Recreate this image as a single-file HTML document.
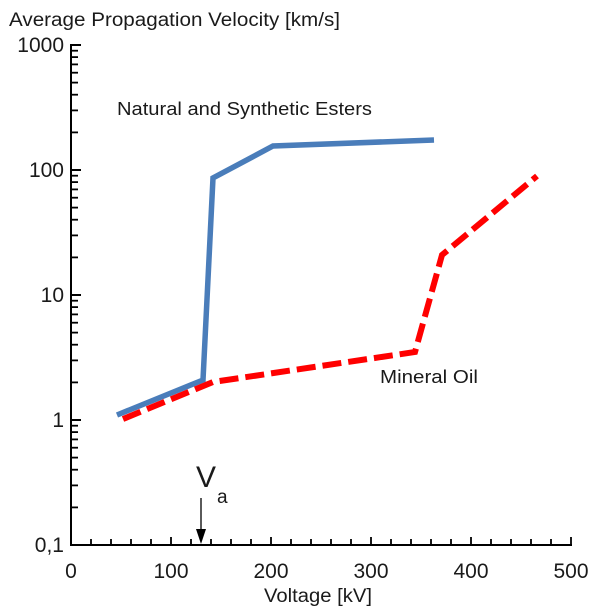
<!DOCTYPE html>
<html>
<head>
<meta charset="utf-8">
<style>
html,body{margin:0;padding:0;background:#fff;}
svg{display:block;}
text{font-family:"Liberation Sans",Arial,sans-serif;}
</style>
</head>
<body>
<svg width="602" height="616" viewBox="0 0 602 616" xmlns="http://www.w3.org/2000/svg">
<rect width="602" height="616" fill="#fff"/>
<!-- title -->
<text x="9" y="26" font-size="19" fill="#1a1a1a" textLength="331" lengthAdjust="spacingAndGlyphs">Average Propagation Velocity [km/s]</text>

<!-- axes -->
<g stroke="#000" stroke-width="2" fill="none">
<line x1="71" y1="44" x2="71" y2="546"/>
<line x1="70" y1="545" x2="572" y2="545"/>
</g>

<!-- y ticks -->
<g stroke="#000" stroke-width="2">
<line x1="71" y1="45" x2="81" y2="45"/>
<line x1="71" y1="170" x2="81" y2="170"/>
<line x1="71" y1="295" x2="81" y2="295"/>
<line x1="71" y1="420" x2="81" y2="420"/>
</g>
<g stroke="#000" stroke-width="1.8" id="minor">
<!-- decade 100-1000 base 170 -->
<line x1="71" y1="132.4" x2="78" y2="132.4"/>
<line x1="71" y1="110.4" x2="78" y2="110.4"/>
<line x1="71" y1="94.7" x2="78" y2="94.7"/>
<line x1="71" y1="82.6" x2="78" y2="82.6"/>
<line x1="71" y1="72.7" x2="78" y2="72.7"/>
<line x1="71" y1="64.4" x2="78" y2="64.4"/>
<line x1="71" y1="57.1" x2="78" y2="57.1"/>
<line x1="71" y1="50.7" x2="78" y2="50.7"/>
<!-- decade 10-100 base 295 -->
<line x1="71" y1="257.4" x2="78" y2="257.4"/>
<line x1="71" y1="235.4" x2="78" y2="235.4"/>
<line x1="71" y1="219.7" x2="78" y2="219.7"/>
<line x1="71" y1="207.6" x2="78" y2="207.6"/>
<line x1="71" y1="197.7" x2="78" y2="197.7"/>
<line x1="71" y1="189.4" x2="78" y2="189.4"/>
<line x1="71" y1="182.1" x2="78" y2="182.1"/>
<line x1="71" y1="175.7" x2="78" y2="175.7"/>
<!-- decade 1-10 base 420 -->
<line x1="71" y1="382.4" x2="78" y2="382.4"/>
<line x1="71" y1="360.4" x2="78" y2="360.4"/>
<line x1="71" y1="344.7" x2="78" y2="344.7"/>
<line x1="71" y1="332.6" x2="78" y2="332.6"/>
<line x1="71" y1="322.7" x2="78" y2="322.7"/>
<line x1="71" y1="314.4" x2="78" y2="314.4"/>
<line x1="71" y1="307.1" x2="78" y2="307.1"/>
<line x1="71" y1="300.7" x2="78" y2="300.7"/>
<!-- decade 0.1-1 base 545 -->
<line x1="71" y1="507.4" x2="78" y2="507.4"/>
<line x1="71" y1="485.4" x2="78" y2="485.4"/>
<line x1="71" y1="469.7" x2="78" y2="469.7"/>
<line x1="71" y1="457.6" x2="78" y2="457.6"/>
<line x1="71" y1="447.7" x2="78" y2="447.7"/>
<line x1="71" y1="439.4" x2="78" y2="439.4"/>
<line x1="71" y1="432.1" x2="78" y2="432.1"/>
<line x1="71" y1="425.7" x2="78" y2="425.7"/>
</g>

<!-- x ticks -->
<g stroke="#000" stroke-width="1.8">
<line x1="91" y1="545" x2="91" y2="539"/>
<line x1="111" y1="545" x2="111" y2="539"/>
<line x1="131" y1="545" x2="131" y2="539"/>
<line x1="151" y1="545" x2="151" y2="539"/>
<line x1="171" y1="545" x2="171" y2="537"/>
<line x1="191" y1="545" x2="191" y2="539"/>
<line x1="211" y1="545" x2="211" y2="539"/>
<line x1="231" y1="545" x2="231" y2="539"/>
<line x1="251" y1="545" x2="251" y2="539"/>
<line x1="271" y1="545" x2="271" y2="537"/>
<line x1="291" y1="545" x2="291" y2="539"/>
<line x1="311" y1="545" x2="311" y2="539"/>
<line x1="331" y1="545" x2="331" y2="539"/>
<line x1="351" y1="545" x2="351" y2="539"/>
<line x1="371" y1="545" x2="371" y2="537"/>
<line x1="391" y1="545" x2="391" y2="539"/>
<line x1="411" y1="545" x2="411" y2="539"/>
<line x1="431" y1="545" x2="431" y2="539"/>
<line x1="451" y1="545" x2="451" y2="539"/>
<line x1="471" y1="545" x2="471" y2="537"/>
<line x1="491" y1="545" x2="491" y2="539"/>
<line x1="511" y1="545" x2="511" y2="539"/>
<line x1="531" y1="545" x2="531" y2="539"/>
<line x1="551" y1="545" x2="551" y2="539"/>
<line x1="571" y1="546" x2="571" y2="537"/>
</g>

<!-- y labels -->
<g font-size="21" fill="#1a1a1a" text-anchor="end">
<text x="64" y="52">1000</text>
<text x="64" y="177">100</text>
<text x="64" y="302">10</text>
<text x="64" y="427">1</text>
<text x="64" y="552">0,1</text>
</g>
<!-- x labels -->
<g font-size="21" fill="#1a1a1a" text-anchor="middle">
<text x="71" y="578">0</text>
<text x="171" y="578">100</text>
<text x="271" y="578">200</text>
<text x="371" y="578">300</text>
<text x="471" y="578">400</text>
<text x="571" y="578">500</text>
</g>
<text x="264" y="602" font-size="19" fill="#1a1a1a" textLength="108" lengthAdjust="spacingAndGlyphs">Voltage [kV]</text>

<!-- series labels -->
<text x="117" y="115" font-size="18" fill="#1a1a1a" textLength="255" lengthAdjust="spacingAndGlyphs">Natural and Synthetic Esters</text>
<text x="380" y="383" font-size="18" fill="#1a1a1a" textLength="98" lengthAdjust="spacingAndGlyphs">Mineral Oil</text>

<!-- Va -->
<text x="196" y="487" font-size="30" fill="#1a1a1a">V</text>
<text x="217" y="503" font-size="19" fill="#1a1a1a">a</text>
<line x1="201" y1="498" x2="201" y2="531" stroke="#000" stroke-width="1.3"/>
<polygon points="196,529 206,529 201,544" fill="#000"/>

<!-- blue series -->
<polyline points="117,415 203,380 213,178 273,146 434,140" fill="none" stroke="#4a7dba" stroke-width="5.5" stroke-linejoin="miter"/>

<!-- red series -->
<polyline points="123,419 213,382 415,352 442,255 537,176" fill="none" stroke="#ff0000" stroke-width="6" stroke-dasharray="19 7" stroke-linejoin="miter"/>
</svg>
</body>
</html>
